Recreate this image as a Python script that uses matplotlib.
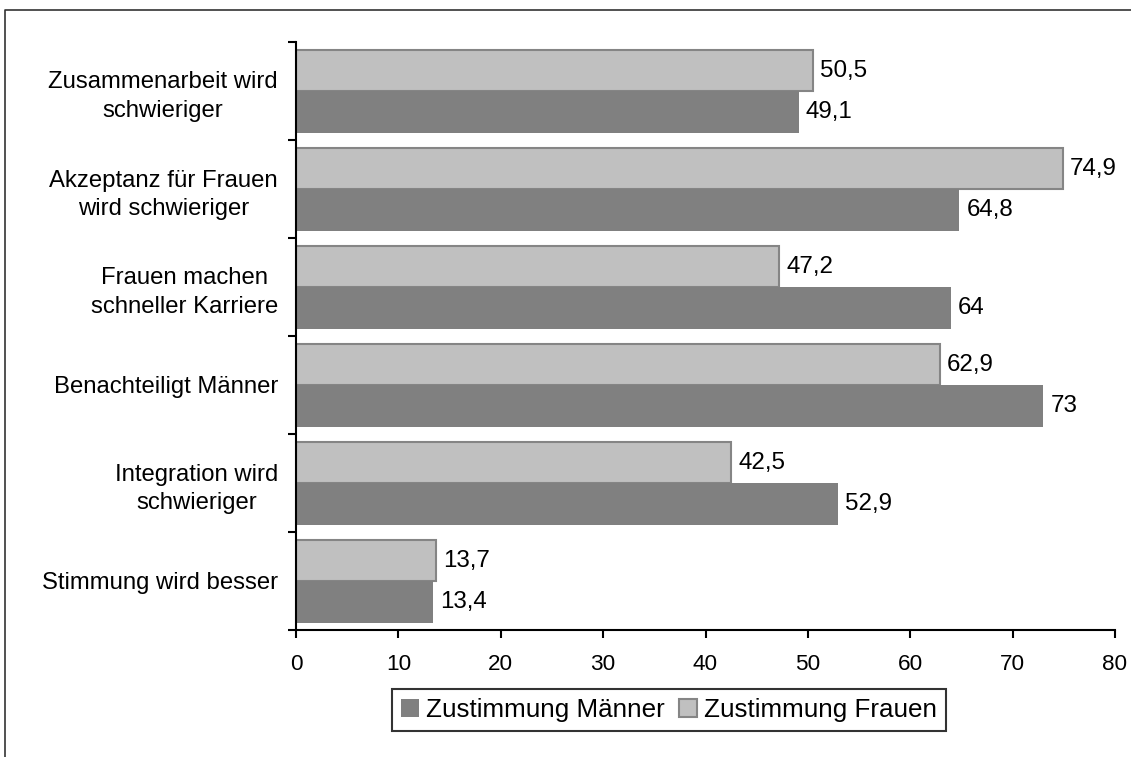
import matplotlib
matplotlib.use("Agg")
import matplotlib.pyplot as plt
from matplotlib.lines import Line2D
import numpy as np

plt.rcParams['font.family'] = ['Liberation Sans', 'DejaVu Sans']

categories = [
    "Zusammenarbeit wird\nschwieriger",
    "Akzeptanz für Frauen\nwird schwieriger",
    "Frauen machen\nschneller Karriere",
    "Benachteiligt Männer",
    "Integration wird\nschwieriger",
    "Stimmung wird besser",
]
maenner = [49.1, 64.8, 64, 73, 52.9, 13.4]
frauen = [50.5, 74.9, 47.2, 62.9, 42.5, 13.7]
series_labels = ["Zustimmung Männer", "Zustimmung Frauen"]
x_ticks = [0, 10, 20, 30, 40, 50, 60, 70, 80]

FS_CAT = 17.2
FS_VAL = 17.4
FS_TICK = 16.2
FS_LEG = 18.7

W, H = 1131, 757
fig = plt.figure(figsize=(W / 100, H / 100), dpi=100)
ax = fig.add_axes([296 / W, 1 - 630 / H, (1115 - 296) / W, (630 - 42) / H])

y = np.arange(len(categories))
h = 0.42
bf = ax.barh(y - 0.205, frauen, height=h, color='#c0c0c0', edgecolor='#858585',
             linewidth=1.5, label=series_labels[1], zorder=2)
bm = ax.barh(y + 0.215, maenner, height=h, color='#808080', edgecolor='none',
             label=series_labels[0], zorder=2)

def fmt(v):
    return f"{v:g}".replace('.', ',')

for bars, vals in ((bf, frauen), (bm, maenner)):
    for rect, v in zip(bars, vals):
        ax.annotate(fmt(v), (v, rect.get_y() + rect.get_height() / 2),
                    xytext=(5, 0), textcoords='offset points',
                    ha='left', va='center', fontsize=FS_VAL, color='black')

ax.set_xlim(0, 80)
ax.set_ylim(len(categories) - 0.5, -0.5)

ax.set_xticks(x_ticks)
ax.set_xticklabels([str(t) for t in x_ticks], fontsize=FS_TICK)
ax.tick_params(axis='x', direction='out', length=6, width=1.5, pad=11.5, colors='black')

ax.set_yticks(np.arange(len(categories) + 1) - 0.5)
ax.set_yticklabels([])
ax.tick_params(axis='y', which='major', direction='out', length=6, width=1.5)
ax.set_yticks(y, minor=True)
ax.set_yticklabels(categories, minor=True, fontsize=FS_CAT,
                   multialignment='center', linespacing=1.37)
ax.tick_params(axis='y', which='minor', length=0, pad=13)

for s in ('top', 'right'):
    ax.spines[s].set_visible(False)
for s in ('left', 'bottom'):
    ax.spines[s].set_linewidth(1.5)
    ax.spines[s].set_color('black')

leg = fig.legend([bm, bf], series_labels, loc='center',
                 bbox_to_anchor=(669 / W, 1 - 710 / H), ncol=2, fontsize=FS_LEG,
                 frameon=True, fancybox=False, shadow=False,
                 handlelength=0.7, handleheight=0.7, handletextpad=0.27,
                 columnspacing=0.54, borderpad=0.35, borderaxespad=0)
leg.get_frame().set_edgecolor('black')
leg.get_frame().set_linewidth(1.5)

# outer frame: left and top edges
fig.add_artist(Line2D([5 / W, 5 / W, 1.0], [0.0, 1 - 10 / H, 1 - 10 / H],
                      transform=fig.transFigure, color='#333333', linewidth=1.2))

fig.savefig("out.png", dpi=100)
